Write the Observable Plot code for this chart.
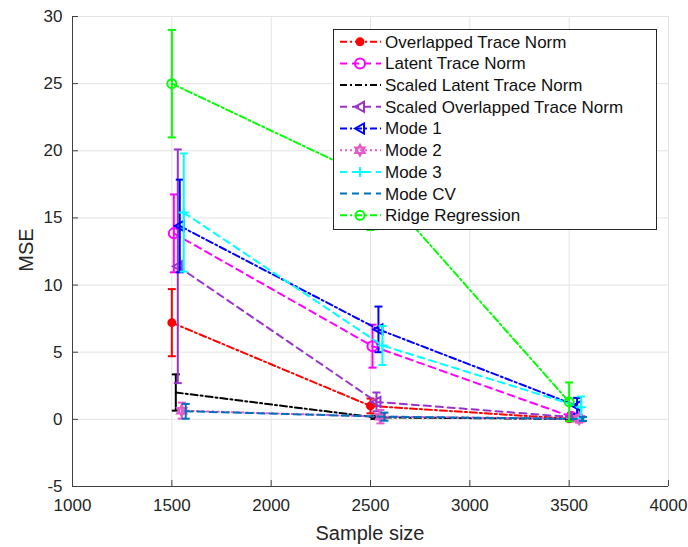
<!DOCTYPE html>
<html><head><meta charset="utf-8">
<script src="https://cdn.jsdelivr.net/npm/d3@7"></script>
<script src="https://cdn.jsdelivr.net/npm/@observablehq/plot@0.6"></script>
<style>
body{margin:0;background:#fff;}
#chart{position:relative;width:688px;height:547px;}
#chart > svg{display:block;}
#legend{position:absolute;left:333px;top:29px;width:324px;height:201px;box-sizing:border-box;border:1px solid #262626;background:#fff;}
#legend svg{display:block;position:absolute;left:-1px;top:-1px;}
</style>
</head><body><div id="chart"><div id="legend"></div></div>
<script>
// ---------- data ----------
const seriesNames = ["Overlapped Trace Norm","Latent Trace Norm","Scaled Latent Trace Norm","Scaled Overlapped Trace Norm","Mode 1","Mode 2","Mode 3","Mode CV","Ridge Regression"];
const sampleSize = [1500, 2500, 3500];
const sampleSizeOffset = [0, 10, 20, 30, 40, 50, 60, 70, 0];
const mseOverlapped = [7.2, 1.0, 0.05];   const errOverlapped = [2.5, 0.55, 0.1];
const mseLatent = [13.85, 5.45, 0.2];     const errLatent = [2.9, 1.6, 0.25];
const mseScaledLatent = [2.0, 0.15, 0.03]; const errScaledLatent = [1.35, 0.12, 0.05];
const mseScaledOverlapped = [11.4, 1.3, 0.15]; const errScaledOverlapped = [8.7, 0.7, 0.2];
const mseMode1 = [14.4, 6.7, 1.0];        const errMode1 = [3.45, 1.7, 0.6];
const mseMode2 = [0.65, 0.2, 0.05];       const errMode2 = [0.6, 0.5, 0.3];
const mseMode3 = [15.4, 5.5, 0.9];        const errMode3 = [4.4, 1.45, 0.8];
const mseModeCV = [0.6, 0.2, 0.03];       const errModeCV = [0.55, 0.3, 0.15];
const mseRidge = [25.0, 18.0, 1.3];       const errRidge = [4.0, 3.9, 1.45];
const xTicks = [1000, 1500, 2000, 2500, 3000, 3500, 4000];
const yTicks = [-5, 0, 5, 10, 15, 20, 25, 30];
const xLabel = "Sample size", yLabel = "MSE";

// ---------- styles ----------
const means = [mseOverlapped, mseLatent, mseScaledLatent, mseScaledOverlapped, mseMode1, mseMode2, mseMode3, mseModeCV, mseRidge];
const errs  = [errOverlapped, errLatent, errScaledLatent, errScaledOverlapped, errMode1, errMode2, errMode3, errModeCV, errRidge];
const colors = ["#ff0000","#ff00ff","#000000","#9933cc","#0000ff","#e35bc8","#00ffff","#0072bd","#00ff00"];
const dashes = ["7,3,2,3","7,5","7,3,2,3","7,5","7,3,2,3","2,3","7,5","7,5","7,3,2,3"];

const r2 = s => Math.sqrt(s / Math.PI);
const capSym = {draw(c, s){ const r = r2(s); c.moveTo(-r,0); c.lineTo(r,0); }};
const circSym = {draw(c, s){ const r = r2(s); c.moveTo(r,0); c.arc(0,0,r,0,2*Math.PI); }};
const triLeft = {draw(c, s){ const r = r2(s); c.moveTo(-r,0); c.lineTo(r*0.8,-r); c.lineTo(r*0.8,r); c.closePath(); }};
const plusSym = {draw(c, s){ const r = r2(s); c.moveTo(-r,0); c.lineTo(r,0); c.moveTo(0,-r); c.lineTo(0,r); }};
const hexSym = {draw(c, s){ const r = r2(s);
  for (const sgn of [1,-1]) { c.moveTo(0,-sgn*r); c.lineTo(r*0.866, sgn*r*0.5); c.lineTo(-r*0.866, sgn*r*0.5); c.closePath(); } }};
// marker spec per series: [symbol, r, filled]
const markers = [
  [circSym, 3.5, true], [circSym, 5, false], null, [triLeft, 5, false], [triLeft, 5, false],
  [hexSym, 5.5, true], [plusSym, 5, false], null, [circSym, 4.5, false]
];

const rows = [];
seriesNames.forEach((name, i) => {
  sampleSize.forEach((n, j) => {
    rows.push({series: name, idx: i, x: n + sampleSizeOffset[i], y: means[i][j], lo: means[i][j] - errs[i][j], hi: means[i][j] + errs[i][j]});
  });
});

const marks = [
  Plot.gridX(xTicks, {stroke: "#e3e3e3", strokeOpacity: 1}),
  Plot.gridY(yTicks, {stroke: "#e3e3e3", strokeOpacity: 1}),
  Plot.ruleY([-5], {stroke: "#404040"}),
  Plot.ruleX([1000], {stroke: "#404040"}),
  Plot.ruleX(xTicks, {y1: -5, y2: -4.55, stroke: "#404040"}),
  Plot.ruleY(yTicks, {x1: 1000, x2: 1030, stroke: "#404040"}),
  Plot.axisX(xTicks, {tickSize: 0, tickPadding: 12, tickFormat: d => String(d), label: null, fill: "#262626"}),
  Plot.axisY(yTicks, {tickSize: 0, tickPadding: 10, tickFormat: d => String(d), label: null, fill: "#262626"})
];

seriesNames.forEach((name, i) => {
  const d = rows.filter(r => r.idx === i);
  const col = colors[i];
  marks.push(Plot.line(d, {x: "x", y: "y", stroke: col, strokeWidth: 2, strokeDasharray: dashes[i]}));
  marks.push(Plot.ruleX(d, {x: "x", y1: "lo", y2: "hi", stroke: col, strokeWidth: 2}));
  marks.push(Plot.dot(d, {x: "x", y: "lo", symbol: capSym, r: 4, stroke: col, strokeWidth: 2}));
  marks.push(Plot.dot(d, {x: "x", y: "hi", symbol: capSym, r: 4, stroke: col, strokeWidth: 2}));
  const m = markers[i];
  if (m) marks.push(Plot.dot(d, {x: "x", y: "y", symbol: m[0], r: m[1], stroke: col, strokeWidth: 2, fill: m[2] ? col : "none"}));
});

const svg = Plot.plot({
  width: 688, height: 547,
  marginLeft: 72, marginRight: 20, marginTop: 16, marginBottom: 61,
  x: {domain: [1000, 4000]},
  y: {domain: [-5, 30]},
  style: {fontFamily: "'Liberation Sans', Arial, Helvetica, sans-serif", fontSize: "17px", background: "#fff", color: "#262626"},
  marks
});

// axis titles
const S = d3.select(svg);
S.append("text").attr("x", 370).attr("y", 533).attr("dy", "0.35em").attr("text-anchor", "middle")
  .attr("font-size", 20).attr("fill", "#262626").text(xLabel);
S.append("text").attr("transform", "translate(26,250) rotate(-90)").attr("dy", "0.35em").attr("text-anchor", "middle")
  .attr("font-size", 20).attr("fill", "#262626").text(yLabel);

document.getElementById("chart").insertBefore(svg, document.getElementById("legend"));

// ---------- legend ----------
const L = d3.select("#legend").append("svg").attr("width", 324).attr("height", 201)
  .style("font-family", "'Liberation Sans', Arial, Helvetica, sans-serif");
seriesNames.forEach((name, i) => {
  const cy = 12.7 + i * 21.7;
  L.append("line").attr("x1", 7).attr("x2", 48).attr("y1", cy).attr("y2", cy)
    .attr("stroke", colors[i]).attr("stroke-width", 2).attr("stroke-dasharray", dashes[i]);
  const m = markers[i];
  if (m) {
    L.append("path").attr("transform", `translate(27,${cy})`)
      .attr("d", d3.symbol(m[0], Math.PI * m[1] * m[1])())
      .attr("fill", m[2] ? colors[i] : "none").attr("stroke", colors[i]).attr("stroke-width", 2);
  }
  L.append("text").attr("x", 52).attr("y", cy).attr("dy", "0.35em").attr("text-anchor", "start")
    .attr("fill", "#111").attr("font-size", 17).text(name);
});
</script>
</body></html>
